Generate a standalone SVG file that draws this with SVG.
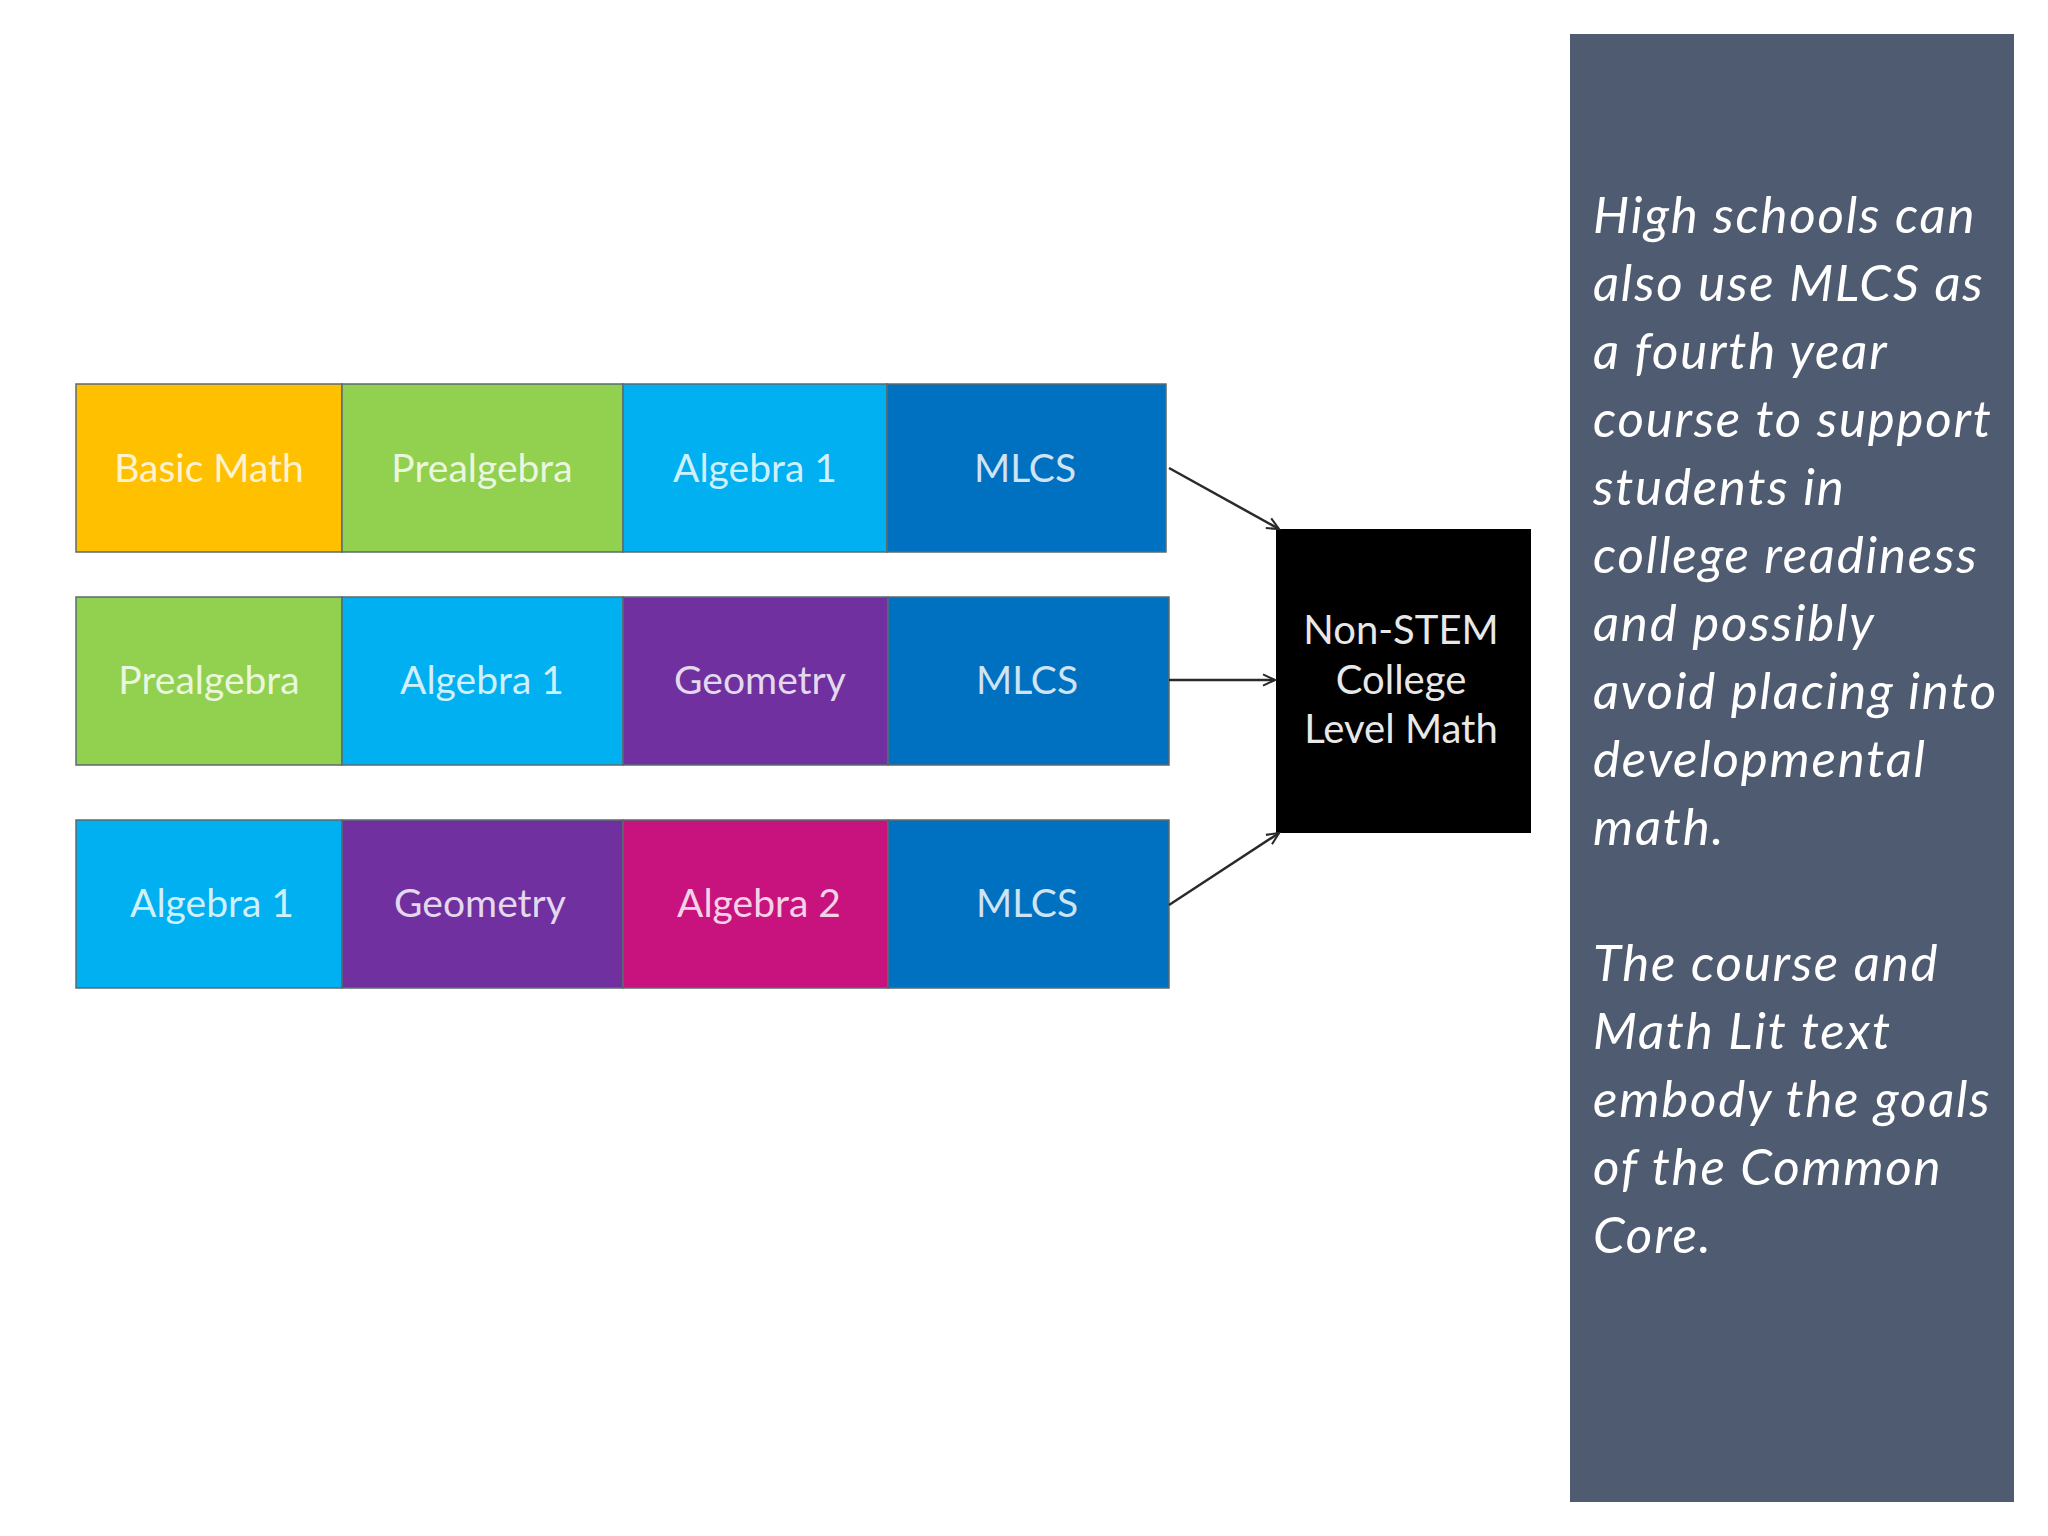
<svg xmlns="http://www.w3.org/2000/svg" width="2048" height="1536" viewBox="0 0 2048 1536">
<style>
.cell{stroke:#5a6b70;stroke-width:1.5}
.lbl{font-family:Lato,"Open Sans","Liberation Sans",sans-serif;font-size:39px;fill:#ffffff;fill-opacity:0.82;text-anchor:middle}
.box{font-family:Lato,"Open Sans","Liberation Sans",sans-serif;font-size:40px;fill:#e8e8e8;text-anchor:middle}
.side{font-family:Lato,"Open Sans","Liberation Sans",sans-serif;font-style:italic;font-size:51px;letter-spacing:1.8px;fill:#ffffff}
.conn{stroke:#2a2a2a;stroke-width:2.5;fill:none;marker-end:url(#arr)}
</style>
<defs>
<marker id="arr" viewBox="0 0 20 20" refX="18" refY="10" markerWidth="16" markerHeight="16" markerUnits="userSpaceOnUse" orient="auto">
<path d="M3,3 L18,10 L3,17" fill="none" stroke="#2a2a2a" stroke-width="2.6"/>
</marker>
</defs>
<rect width="2048" height="1536" fill="#ffffff"/>
<g id="panel">
<rect x="1570" y="34" width="444" height="1468" fill="#4f5b70"/>
<text class="side" x="1593"><tspan x="1593" y="233">High schools can</tspan><tspan x="1593" y="301">also use MLCS as</tspan><tspan x="1593" y="369">a fourth year</tspan><tspan x="1593" y="437">course to support</tspan><tspan x="1593" y="505">students in</tspan><tspan x="1593" y="573">college readiness</tspan><tspan x="1593" y="641">and possibly</tspan><tspan x="1593" y="709">avoid placing into</tspan><tspan x="1593" y="777">developmental</tspan><tspan x="1593" y="845">math.</tspan><tspan x="1593" y="981">The course and</tspan><tspan x="1593" y="1049">Math Lit text</tspan><tspan x="1593" y="1117">embody the goals</tspan><tspan x="1593" y="1185">of the Common</tspan><tspan x="1593" y="1253">Core.</tspan></text>
</g>
<g id="row1">
<g id="r1-basic"><rect class="cell" x="76" y="384" width="266" height="168" fill="#ffc000"/><text class="lbl" x="209" y="482">Basic Math</text></g>
<g id="r1-prealg"><rect class="cell" x="342" y="384" width="281" height="168" fill="#92d050"/><text class="lbl" x="482" y="482">Prealgebra</text></g>
<g id="r1-alg1"><rect class="cell" x="623" y="384" width="264" height="168" fill="#00b0f0"/><text class="lbl" x="755" y="482">Algebra 1</text></g>
<g id="r1-mlcs"><rect class="cell" x="887" y="384" width="279" height="168" fill="#0070c0"/><text class="lbl" x="1025" y="482">MLCS</text></g>
</g>
<g id="row2">
<g id="r2-prealg"><rect class="cell" x="76" y="597" width="266" height="168" fill="#92d050"/><text class="lbl" x="209" y="694">Prealgebra</text></g>
<g id="r2-alg1"><rect class="cell" x="342" y="597" width="281" height="168" fill="#00b0f0"/><text class="lbl" x="482" y="694">Algebra 1</text></g>
<g id="r2-geom"><rect class="cell" x="623" y="597" width="265" height="168" fill="#7030a0"/><text class="lbl" x="760" y="694">Geometry</text></g>
<g id="r2-mlcs"><rect class="cell" x="888" y="597" width="281" height="168" fill="#0070c0"/><text class="lbl" x="1027" y="694">MLCS</text></g>
</g>
<g id="row3">
<g id="r3-alg1"><rect class="cell" x="76" y="820" width="266" height="168" fill="#00b0f0"/><text class="lbl" x="212" y="917">Algebra 1</text></g>
<g id="r3-geom"><rect class="cell" x="342" y="820" width="281" height="168" fill="#7030a0"/><text class="lbl" x="480" y="917">Geometry</text></g>
<g id="r3-alg2"><rect class="cell" x="623" y="820" width="265" height="168" fill="#c8127e"/><text class="lbl" x="759" y="917">Algebra 2</text></g>
<g id="r3-mlcs"><rect class="cell" x="888" y="820" width="281" height="168" fill="#0070c0"/><text class="lbl" x="1027" y="917">MLCS</text></g>
</g>
<g id="target">
<rect x="1276" y="529" width="255" height="304" fill="#000000"/>
<text class="box" x="1401" y="644">Non-STEM</text>
<text class="box" x="1401" y="694">College</text>
<text class="box" x="1401" y="743">Level Math</text>
</g>
<g id="connectors">
<line class="conn" x1="1169" y1="468" x2="1279" y2="529"/>
<line class="conn" x1="1169" y1="680" x2="1275" y2="680"/>
<line class="conn" x1="1169" y1="905" x2="1279" y2="833"/>
</g>
</svg>
